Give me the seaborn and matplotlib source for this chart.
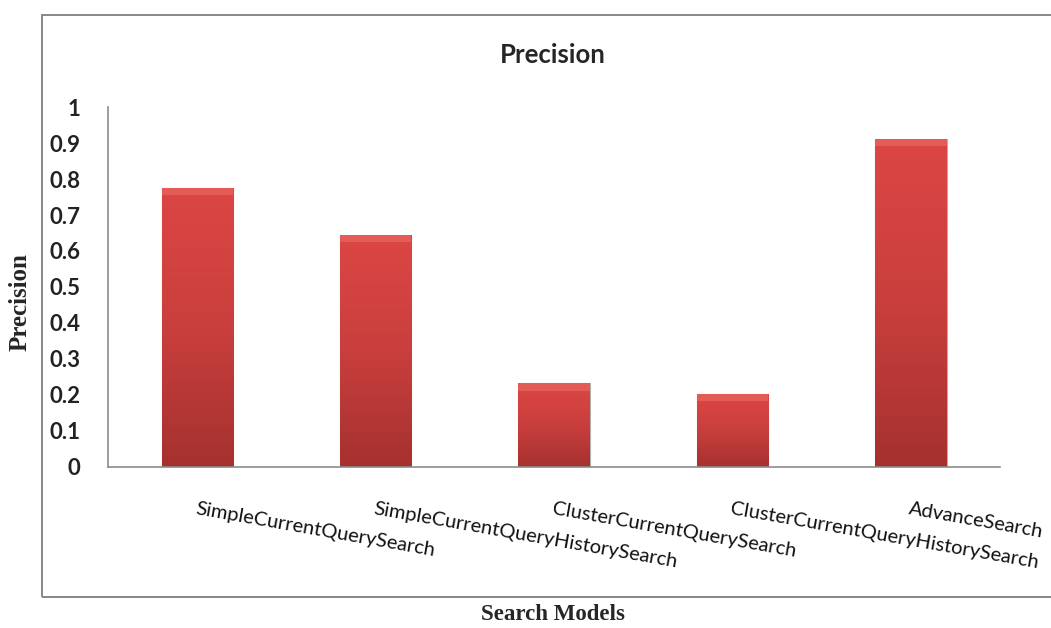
import numpy as np
import pandas as pd
import seaborn as sns
import matplotlib.pyplot as plt
from matplotlib.patches import Rectangle
from matplotlib.colors import LinearSegmentedColormap

models = ["SimpleCurrentQuerySearch", "SimpleCurrentQueryHistorySearch",
          "ClusterCurrentQuerySearch", "ClusterCurrentQueryHistorySearch",
          "AdvanceSearch"]
precision = [0.775, 0.645, 0.232, 0.203, 0.912]
yticks = [0, 0.1, 0.2, 0.3, 0.4, 0.5, 0.6, 0.7, 0.8, 0.9, 1]
ytick_labels = ["0", "0.1", "0.2", "0.3", "0.4", "0.5", "0.6", "0.7", "0.8", "0.9", "1"]

df = pd.DataFrame({"model": models, "precision": precision})

sns.set_style("white")
plt.rcParams["font.family"] = ["Lato", "DejaVu Sans"]

fig = plt.figure(figsize=(10.51, 6.28), dpi=100)
ax = fig.add_axes([0.1028, 0.2564, 0.8487, 0.5732])

sns.barplot(data=df, x="model", y="precision", color="#c23c3b", width=0.4,
            saturation=1, ax=ax)

# vertical gradient on each bar
cmap = LinearSegmentedColormap.from_list("bar", ["#dc4644", "#c93f3d", "#a5312f"])
grad = np.linspace(0, 1, 256).reshape(-1, 1)
for p in ax.patches:
    x0, y0 = p.get_x(), p.get_y()
    w, h = p.get_width(), p.get_height()
    im = ax.imshow(grad, cmap=cmap, aspect="auto", extent=[x0, x0 + w, y0, y0 + h],
                   origin="upper", zorder=p.get_zorder() + 0.1)
    im.set_clip_path(p)
    p.set_edgecolor("#b0b0b0")
    p.set_linewidth(0.8)
    # bevel highlight at the top
    ax.add_patch(Rectangle((x0, y0 + h - 0.02), w, 0.02, facecolor="#e45c58",
                           edgecolor="none", zorder=p.get_zorder() + 0.2))

ax.set_xlim(-0.5, len(models) - 0.5)
ax.set_ylim(0, 1)
ax.set_yticks(yticks)
ax.set_yticklabels(ytick_labels, fontsize=16, fontweight="bold", color="#222222")
ax.tick_params(axis="y", length=0, pad=20)
ax.tick_params(axis="x", length=0, pad=24)
ax.set_xticks(range(len(models)))
ax.set_xticklabels(models, rotation=-10, ha="left", rotation_mode="anchor",
                   fontsize=14.5, color="#111111")
ax.set_xlabel("")
ax.set_ylabel("")

sns.despine(ax=ax)
for side in ["left", "bottom"]:
    ax.spines[side].set_color("#8c8c8c")
    ax.spines[side].set_linewidth(1.2)

# chart frame
fig.patches.append(Rectangle((42 / 1051, 1 - 597 / 628), 1.2, (597 - 15) / 628,
                             transform=fig.transFigure, fill=False,
                             edgecolor="#7f7f7f", linewidth=1.3))

fig.text(553 / 1051, 1 - 55 / 628, "Precision", ha="center", va="center",
         fontsize=18.5, fontweight="bold")
fig.text(553 / 1051, 1 - 615 / 628, "Search Models", ha="center", va="center",
         fontsize=16.5, fontweight="bold", family=["Liberation Serif", "DejaVu Serif"])
fig.text(20 / 1051, 1 - 302 / 628, "Precision", ha="center", va="center",
         rotation=90, fontsize=18, fontweight="bold",
         family=["Liberation Serif", "DejaVu Serif"])

fig.savefig("out.png", dpi=100)
